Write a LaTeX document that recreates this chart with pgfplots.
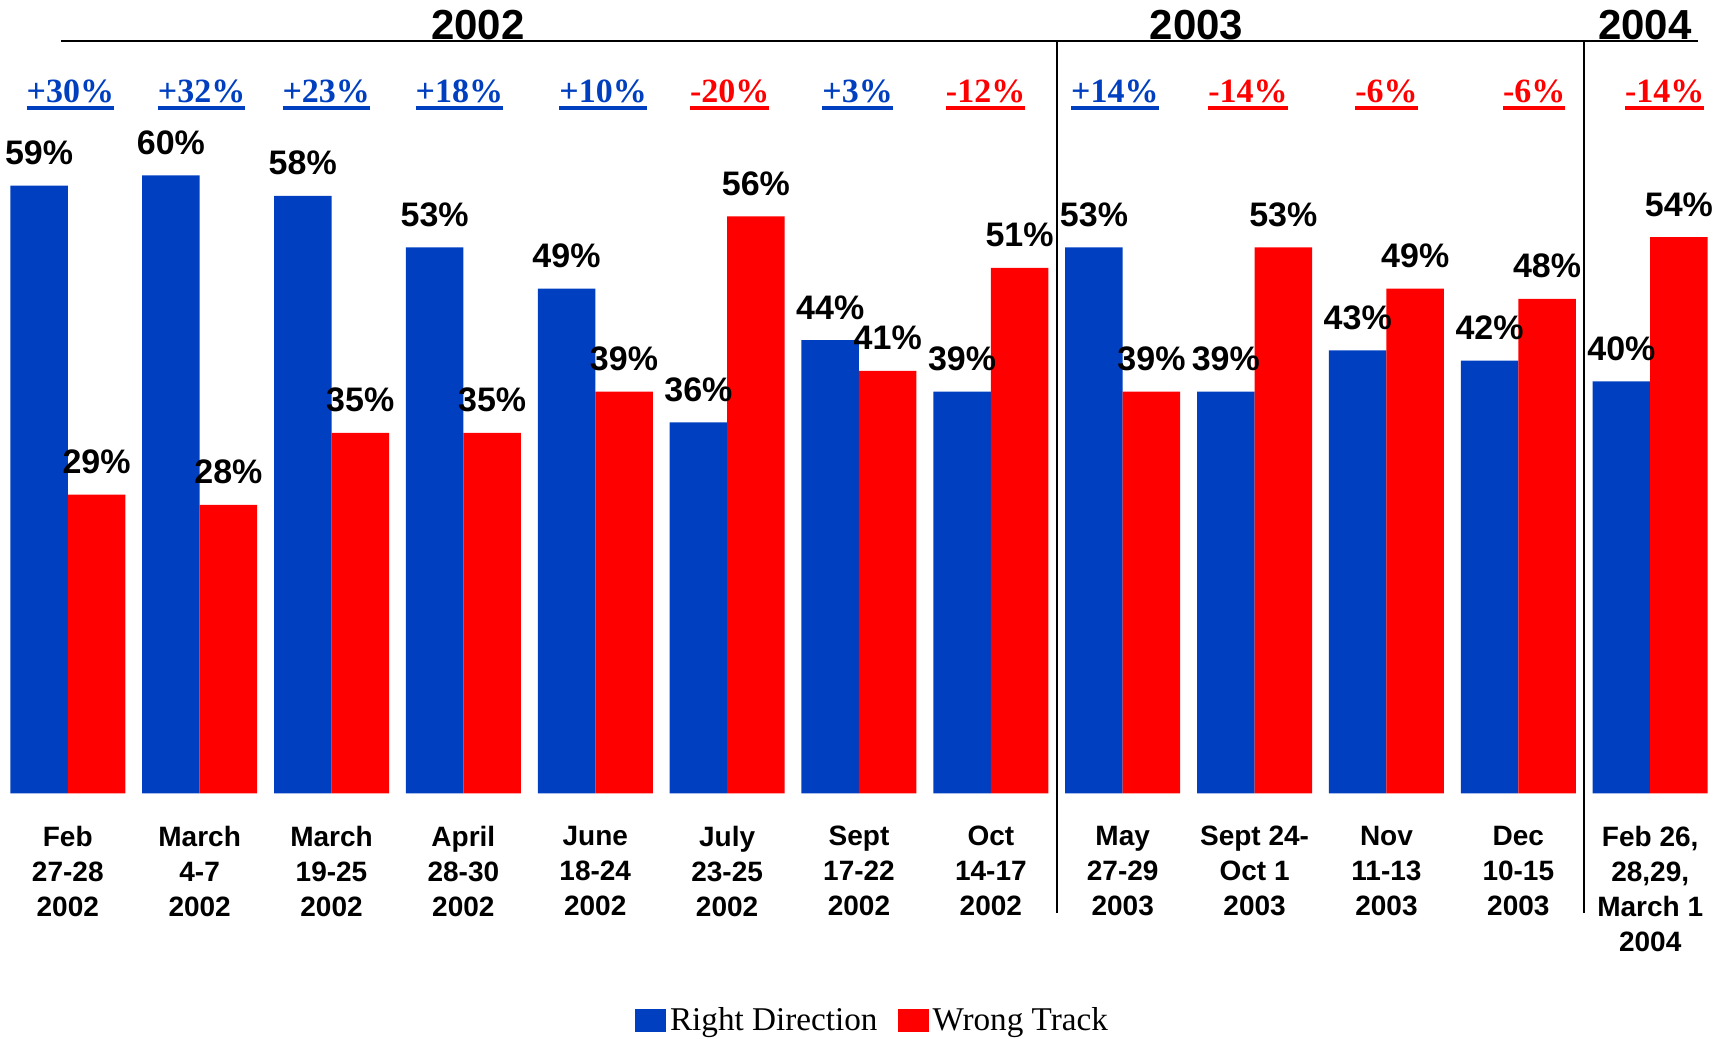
\documentclass[border=0pt]{standalone}
\usepackage{pgfplots}
\pgfplotsset{compat=1.18}
\usepackage{fontspec}
\setmainfont{Liberation Serif}
\newfontfamily\arial{Liberation Sans}
\newfontfamily\tnr{Liberation Serif}
\definecolor{rdblue}{RGB}{0,64,192}
\definecolor{wtred}{RGB}{255,0,0}
\newcommand\chg[2]{{\color{#1}\setbox0\hbox{#2}\rlap{\copy0}\rule[-3.8pt]{\wd0}{2.1pt}}}
\begin{document}
\begin{tikzpicture}
\begin{axis}[
  x=65.935pt, y=5.15pt,
  xmin=-0.514, xmax=12.628, ymin=0, ymax=77.02,
  clip=false,
  hide y axis,
  axis x line*=bottom,
  x axis line style={draw=none},
  major tick length=0pt,
  ybar=0pt, bar width=28.75pt,
  /pgf/number format/assume math mode=true,
  xtick={0,...,12},
  xticklabels={{Feb\\27-28\\2002},{March\\4-7\\2002},{March\\19-25\\2002},{April\\28-30\\2002},{June\\18-24\\2002},{July\\23-25\\2002},{Sept\\17-22\\2002},{Oct\\14-17\\2002},{May\\27-29\\2003},{Sept 24-\\Oct 1\\2003},{Nov\\11-13\\2003},{Dec\\10-15\\2003},{Feb 26,\\28,29,\\March 1\\2004}},
  xticklabel style={font=\arial\bfseries\fontsize{14}{17.5}\selectfont, align=center, anchor=north, yshift=-13pt},
  nodes near coords={\pgfmathprintnumber{\pgfplotspointmeta}\%},
  every node near coord/.append style={font=\arial\bfseries\fontsize{17}{20}\selectfont, anchor=base, inner sep=0pt, yshift=10.5pt, text=black},
  legend style={at={(axis cs:6.11,-22.1)}, anchor=center, draw=none, fill=none, legend columns=2,
    font=\tnr\fontsize{16.6}{19}\selectfont,
    /tikz/every even column/.append style={column sep=8pt}},
  legend image code/.code={\fill[#1] (0pt,-5.75pt) rectangle (15.5pt,5.75pt);},
]
\addplot[fill=rdblue, draw=none] coordinates {(0,59) (1,60) (2,58) (3,53) (4,49) (5,36) (6,44) (7,39) (8,53) (9,39) (10,43) (11,42) (12,40)};
\addplot[fill=wtred, draw=none] coordinates {(0,29) (1,28) (2,35) (3,35) (4,39) (5,56) (6,41) (7,51) (8,39) (9,53) (10,49) (11,48) (12,54)};
\legend{Right Direction, Wrong Track}

\draw[line width=1.3pt] (axis cs:-0.052,73.04) -- (axis cs:12.36,73.04);
\draw[line width=0.9pt] (axis cs:7.5,73.04) -- (axis cs:7.5,-11.62);
\draw[line width=0.9pt] (axis cs:11.5,73.04) -- (axis cs:11.5,-11.62);
\begin{scope}[every node/.style={anchor=base, inner sep=0pt, font=\arial\bfseries\fontsize{21}{24}\selectfont}]
\node at (axis cs:3.11,73.14) {2002};
\node at (axis cs:8.56,73.14) {2003};
\node at (axis cs:11.96,73.14) {2004};
\end{scope}
\begin{scope}[every node/.style={anchor=base, inner sep=0pt, font=\tnr\bfseries\fontsize{17}{20}\selectfont}]
\node at (axis cs:0.02,67.1) {\chg{rdblue}{+30\%}};
\node at (axis cs:1.015,67.1) {\chg{rdblue}{+32\%}};
\node at (axis cs:1.96,67.1) {\chg{rdblue}{+23\%}};
\node at (axis cs:2.97,67.1) {\chg{rdblue}{+18\%}};
\node at (axis cs:4.06,67.1) {\chg{rdblue}{+10\%}};
\node at (axis cs:5.02,67.1) {\chg{wtred}{-20\%}};
\node at (axis cs:5.99,67.1) {\chg{rdblue}{+3\%}};
\node at (axis cs:6.96,67.1) {\chg{wtred}{-12\%}};
\node at (axis cs:7.94,67.1) {\chg{rdblue}{+14\%}};
\node at (axis cs:8.95,67.1) {\chg{wtred}{-14\%}};
\node at (axis cs:10.0,67.1) {\chg{wtred}{-6\%}};
\node at (axis cs:11.12,67.1) {\chg{wtred}{-6\%}};
\node at (axis cs:12.11,67.1) {\chg{wtred}{-14\%}};
\end{scope}
\coordinate (bbl) at (axis cs:-0.514,-23.85);
\coordinate (btr) at (axis cs:12.628,77.02);
\end{axis}
\pgfresetboundingbox
\path[use as bounding box] (bbl) rectangle (btr);
\end{tikzpicture}
\end{document}
